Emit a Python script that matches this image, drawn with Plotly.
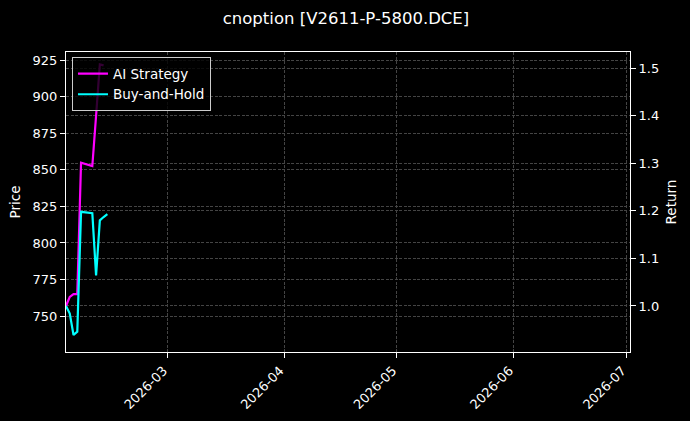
import plotly.graph_objects as go

# daily points (only the first two weeks are plotted in the source)
dates = ["2026-02-02", "2026-02-03", "2026-02-04", "2026-02-05", "2026-02-06",
         "2026-02-09", "2026-02-10", "2026-02-11", "2026-02-12", "2026-02-13"]
ai_return = [1.000, 1.019, 1.025, 1.025, 1.301, 1.294, 1.400, 1.508, 1.506, None]
bh_return = [1.000, 0.984, 0.939, 0.946, 1.198, 1.195, 1.064, 1.180, 1.187, 1.193]

title = "cnoption [V2611-P-5800.DCE]"
price_range = [725.4, 930.7]
return_range = [0.9032, 1.534]
x_range = ["2026-02-02", "2026-07-02"]

FONT = "DejaVu Sans"
GRID = "#444444"
W, H = 690, 421

fig = go.Figure()
# empty trace so the price axis gets drawn on the left
fig.add_trace(go.Scatter(x=[], y=[], showlegend=False, hoverinfo="skip", yaxis="y"))
fig.add_trace(go.Scatter(x=dates, y=ai_return, name="AI Strategy", mode="lines",
                         line=dict(color="#ff00ff", width=2.2), yaxis="y2"))
fig.add_trace(go.Scatter(x=dates, y=bh_return, name="Buy-and-Hold", mode="lines",
                         line=dict(color="#00ffff", width=2.2), yaxis="y2"))

axis_common = dict(showline=True, linecolor="white", linewidth=1, mirror=True,
                   ticks="outside", ticklen=5, tickcolor="white", tickwidth=1,
                   showgrid=True, gridcolor=GRID, griddash="3px,1.5px", gridwidth=0.7,
                   zeroline=False, tickfont=dict(color="white", size=13, family=FONT),
                   automargin=False)

fig.update_layout(
    width=W, height=H,
    margin=dict(l=66, r=60, t=52, b=69),
    paper_bgcolor="black", plot_bgcolor="black",
    font=dict(family=FONT, color="white", size=13),
    title=dict(text=title, x=346 / W, xanchor="center", y=1 - 18 / H, yanchor="middle",
               font=dict(size=16.5, color="white", family=FONT)),
    xaxis=dict(range=x_range, type="date", dtick="M1", tick0="2026-03-01",
               tickformat="%Y-%m", tickangle=-45, ticklabelshift=-4,
               **axis_common),
    yaxis=dict(range=price_range, dtick=25, tick0=0,
               title=dict(text="Price", font=dict(size=13.5, color="white"), standoff=8),
               **axis_common),
    yaxis2=dict(range=return_range, dtick=0.1, tick0=0, tickformat=".1f",
                overlaying="y", side="right",
                title=dict(text="Return", font=dict(size=13.5, color="white"), standoff=8),
                **axis_common),
    legend=dict(x=0.0106, y=0.982, xanchor="left", yanchor="top",
                bgcolor="rgba(0,0,0,0.8)", bordercolor="#cccccc", borderwidth=1,
                font=dict(size=13.5, color="white", family=FONT),
                tracegroupgap=0),
    showlegend=True,
)

# drop the default page margin so the black figure fills the window
fig.write_html("out.html",
               config={"displayModeBar": False},
               post_script="document.body.style.margin='0';"
                           "document.body.style.background='black';"
                           "document.body.style.overflow='hidden';")
